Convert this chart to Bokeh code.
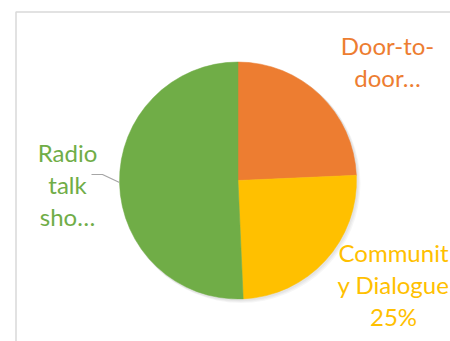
import math
from bokeh.plotting import figure
from bokeh.models import Range1d
from bokeh.core.properties import value
from bokeh.embed import file_html
from bokeh.resources import INLINE

categories = ["Door-to-door", "Community Dialogue", "Radio talk show"]
values = [24.3, 25.0, 50.7]
colors = ["#ED7D31", "#FFC000", "#70AD47"]
label_texts = ["Door-to-\ndoor…", "Communit\ny Dialogue\n25%", "Radio\ntalk\nsho…"]

W, H = 450, 341
p = figure(width=W, height=H, output_backend="svg", toolbar_location=None,
           x_range=Range1d(0, W), y_range=Range1d(0, H), min_border=0)
p.axis.visible = False
p.grid.visible = False
p.outline_line_color = None
p.background_fill_color = "white"

# chart area border
p.quad(left=[15.5], right=[470], bottom=[-20], top=[H - 11.5],
       fill_color=None, line_color="#D9D9D9", line_width=1.5)

cx, cy, r = 237.5, H - 180, 118.5
total = sum(values)
starts, ends = [], []
acc = 0
for v in values:
    starts.append(math.pi / 2 - acc / total * 2 * math.pi)
    acc += v
    ends.append(math.pi / 2 - acc / total * 2 * math.pi)

# soft shadow
for i in range(3):
    p.circle(x=[cx + 1 + i], y=[cy - 1 - i], radius=r + 1, fill_color="black",
             fill_alpha=0.035, line_color=None)

p.wedge(x=[cx] * 3, y=[cy] * 3, radius=r, start_angle=starts, end_angle=ends,
        direction="clock", fill_color=colors, line_color=colors, line_width=0.5)

# leader line for Radio label
p.line(x=[91, 102, 119], y=[H - 174, H - 174, H - 182], line_color="#A6A6A6", line_width=1.2)

lx = [387, 393, 67]
ly = [H - 61, H - 284, H - 184]
p.text(x=lx, y=ly, text=label_texts, text_color=colors, text_align="center",
       text_baseline="middle", text_font=value("Lato"), text_font_size="24px",
       text_line_height=1.1)

open("out.html", "w").write(file_html(p, INLINE))
